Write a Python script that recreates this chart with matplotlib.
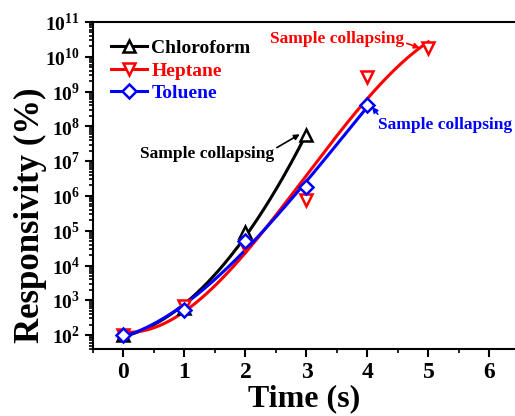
import numpy as np
import matplotlib
matplotlib.use("Agg")
import matplotlib.pyplot as plt
from matplotlib.ticker import FixedLocator, FuncFormatter, NullFormatter

plt.rcParams['font.family'] = ['Liberation Serif', 'DejaVu Serif']
plt.rcParams['font.weight'] = 'bold'
plt.rcParams['mathtext.fontset'] = 'custom'
plt.rcParams['mathtext.rm'] = 'Liberation Serif:bold'
plt.rcParams['mathtext.bf'] = 'Liberation Serif:bold'

# data (responsivity in %)
t_chloro = [0, 1, 2, 3]
r_chloro = [100, 600, 9e4, 5.6e7]
t_hept = [0, 1, 2, 3, 4, 5]
r_hept = [100, 700, 3.6e4, 7.6e5, 2.6e9, 1.8e10]
t_tol = [0, 1, 2, 3, 4]
r_tol = [100, 525, 5e4, 1.8e6, 4e8]
y_decades = list(range(2, 12))

# name, x, y, colour, marker, degree of the smoothing fit
series = [
    ("Chloroform", t_chloro, r_chloro, "black", "^", 2),
    ("Heptane", t_hept, r_hept, "red", "v", 3),
    ("Toluene", t_tol, r_tol, "blue", "D", 3),
]

fig = plt.figure(figsize=(5.15, 4.16), dpi=100)
ax = fig.add_axes([93 / 515, 67 / 416, 422 / 515, 327 / 416])

for name, t, r, c, m, deg in series:
    # smooth fit in log space, like the original fitted curves
    coef = np.polyfit(t, np.log10(r), deg)
    tt = np.linspace(t[0], t[-1], 200)
    ax.plot(tt, 10 ** np.polyval(coef, tt), color=c, lw=2.2, zorder=2)
    ms = 7 if m == "D" else 8
    ax.plot(t, r, ls='none', marker=m, ms=ms, mfc='white', mec=c, mew=1.8, zorder=3)
    ax.plot([], [], color=c, lw=2.2, marker=m, ms=ms, mfc='white', mec=c, mew=1.8, label=name)

ax.set_yscale('log')
ax.set_xlim(-0.5, 6.42)
ax.set_ylim(10 ** 1.6, 1e11)
ax.set_xticks(range(0, 7))
ax.set_xticks(np.arange(-0.5, 6.5, 0.5), minor=True)
ax.yaxis.set_major_locator(FixedLocator([10.0 ** d for d in y_decades]))
minor = [k * 10.0 ** d for d in range(1, 11) for k in range(2, 10)]
ax.yaxis.set_minor_locator(FixedLocator([v for v in minor if 10 ** 1.6 <= v <= 1e11]))
ax.yaxis.set_major_formatter(FuncFormatter(lambda v, p: r'$10^{%d}$' % round(np.log10(v))))
ax.yaxis.set_minor_formatter(NullFormatter())
ax.tick_params(axis='both', which='major', direction='out', length=6, width=1.5, labelsize=14)
ax.tick_params(axis='x', which='major', labelsize=17, pad=3)
ax.tick_params(axis='both', which='minor', direction='out', length=3, width=1.2)
for s in ['left', 'bottom', 'top']:
    ax.spines[s].set_linewidth(1.5)
ax.spines['right'].set_visible(False)

ax.set_xlabel('Time (s)', fontsize=23, fontweight='bold', labelpad=1)
ax.set_ylabel('Responsivity (%)', fontsize=25, fontweight='bold')
ax.yaxis.set_label_coords(-0.108, 0.41)

leg = ax.legend(loc='upper left', bbox_to_anchor=(0.0, 1.0), frameon=False,
                fontsize=14, handlelength=1.9, handletextpad=0.2, labelspacing=0.25,
                borderaxespad=0.5)
for txt, s in zip(leg.get_texts(), series):
    txt.set_color(s[3])

ax.annotate('Sample collapsing', xy=(2.93, 6.5e7), xytext=(1.37, 1.6e7),
            fontsize=12.5, fontweight='bold', color='black', ha='center', va='center',
            arrowprops=dict(arrowstyle='-|>', color='black', lw=1.2, mutation_scale=8,
                            shrinkA=0, shrinkB=2, relpos=(1.0, 0.8)))
ax.annotate('Sample collapsing', xy=(4.9, 1.7e10), xytext=(3.5, 3.2e10),
            fontsize=12.5, fontweight='bold', color='red', ha='center', va='center',
            arrowprops=dict(arrowstyle='-|>', color='red', lw=1.2, mutation_scale=8,
                            shrinkA=0, shrinkB=2, relpos=(1.0, 0.3)))
ax.annotate('Sample collapsing', xy=(4.05, 4.2e8), xytext=(5.28, 1.1e8),
            fontsize=12.5, fontweight='bold', color='blue', ha='center', va='center',
            arrowprops=dict(arrowstyle='-|>', color='blue', lw=1.2, mutation_scale=8,
                            shrinkA=0, shrinkB=2, relpos=(0.02, 0.9)))

fig.savefig('out.png', dpi=100)
